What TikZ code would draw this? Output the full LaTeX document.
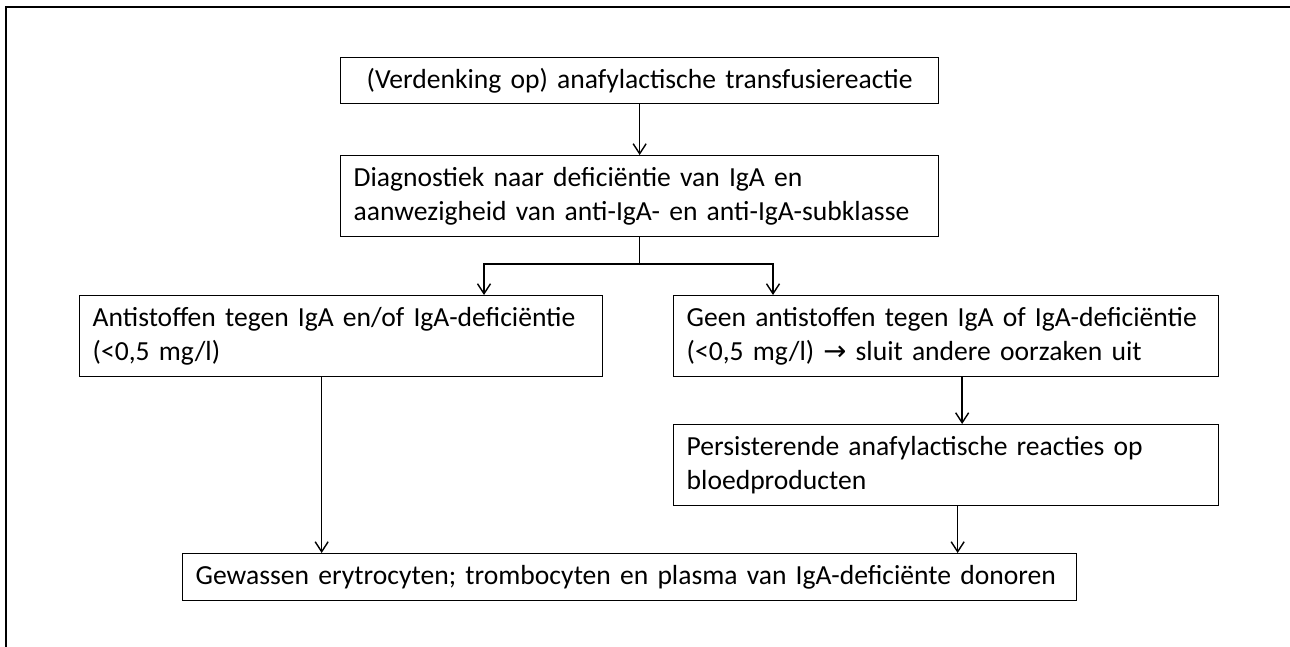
\documentclass[tikz,border=0pt]{standalone}
\usepackage{fontspec}
\setmainfont{Carlito}
\newfontfamily\symb{DejaVu Sans}
\usetikzlibrary{positioning}
\usetikzlibrary{arrows.meta}

\begin{document}
\begin{tikzpicture}[x=0.02cm,y=-0.02cm,
  box/.style={draw, line width=0.8pt, anchor=north west, align=left, inner xsep=0.26cm, inner ysep=0pt, font=\fontsize{15.7}{19.3}\selectfont},
  pijl/.style={line width=0.8pt, -{Straight Barb[length=0.2cm,width=0.26cm]}}]

\useasboundingbox (0,0) rectangle (1290,646);

% frame
\draw[line width=1pt] (1296,7) -- (6,7) -- (6,650);

% boxes
\node[box, align=center, text width=11.44cm, minimum height=0.92cm] (v1) at (340,57) {(Verdenking op) anafylactische transfusiereactie};
\node[box, text width=11.44cm, minimum height=1.62cm] (v2) at (340,155) {Diagnostiek naar deficiëntie van IgA en\\aanwezigheid van anti-IgA- en anti-IgA-subklasse};
\node[box, text width=9.94cm, minimum height=1.62cm] (v3) at (79,295) {Antistoffen tegen IgA en/of IgA-deficiëntie\\(<0,5 mg/l)};
\node[box, text width=10.38cm, minimum height=1.62cm] (v4) at (673,295) {Geen antistoffen tegen IgA of IgA-deficiëntie\\(<0,5 mg/l) {\symb →} sluit andere oorzaken uit};
\node[box, text width=10.38cm, minimum height=1.62cm] (v5) at (673,424) {Persisterende anafylactische reacties op\\bloedproducten};
\node[box, text width=17.36cm, minimum height=0.94cm] (v6) at (182,553) {\mbox{Gewassen erytrocyten; trombocyten en plasma van IgA-deficiënte donoren}};

% arrows
\coordinate (s1) at (484,264);
\coordinate (s2) at (773,264);
\draw[pijl] (v1) -- (v2);
\draw[pijl] (v2.south) |- (s1) -- (s1 |- v3.north);
\draw[pijl] (v2.south) |- (s2) -- (s2 |- v4.north);
\draw[pijl] ([xshift=0.32cm]v4.south) -- ([xshift=0.32cm]v5.north);
\draw[pijl] ([xshift=0.23cm]v5.south) -- ([xshift=0.23cm]v5.south |- v6.north);
\draw[pijl] ([xshift=-0.39cm]v3.south) -- ([xshift=-0.39cm]v3.south |- v6.north);
\end{tikzpicture}
\end{document}
